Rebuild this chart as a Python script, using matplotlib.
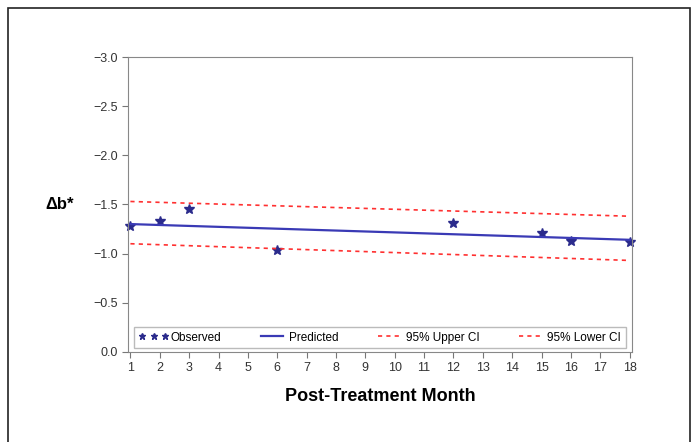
import numpy as np
import matplotlib.pyplot as plt
from matplotlib.patches import Rectangle

plt.rcParams['font.family'] = ['Liberation Sans', 'DejaVu Sans']

# observed data
obs_month = [1, 2, 3, 6, 12, 15, 16, 18]
obs_db = [-1.28, -1.33, -1.45, -1.04, -1.31, -1.21, -1.13, -1.12]

# fitted line and confidence limits (end points)
fit_month = [1, 18]
pred_db = [-1.30, -1.14]
upper_ci = [-1.53, -1.38]
lower_ci = [-1.10, -0.93]

month_ticks = list(range(1, 19))
y_ticks = [0.0, -0.5, -1.0, -1.5, -2.0, -2.5, -3.0]

fig = plt.figure(figsize=(6.96, 4.42), dpi=100)
ax = fig.add_axes([0.184, 0.204, 0.724, 0.667])

ax.plot(obs_month, obs_db, linestyle='none', marker='*', markersize=7.5,
        color='#2b2b8c', label='Observed', clip_on=False)
ax.plot(fit_month, pred_db, color='#3a3ab5', lw=1.6, label='Predicted')
ax.plot(fit_month, upper_ci, color='#ff3030', lw=1.2, ls=(0, (2.5, 2.5)), label='95% Upper CI')
ax.plot(fit_month, lower_ci, color='#ff3030', lw=1.2, ls=(0, (2.5, 2.5)), label='95% Lower CI')

ax.set_xlim(0.92, 18.08)
ax.set_ylim(0.0, -3.0)
ax.set_xticks(month_ticks)
ax.set_yticks(y_ticks)
ax.set_yticklabels(['0.0' if v == 0 else '\u2212%.1f' % abs(v) for v in y_ticks])
ax.tick_params(labelsize=9, length=4, color='#777777', labelcolor='#333333')
for s in ax.spines.values():
    s.set_color('#888888')

ax.set_xlabel('Post-Treatment Month', fontsize=13, fontweight='bold', labelpad=10)
fig.text(0.085, 0.538, '\u0394b*', fontsize=12, fontweight='bold', ha='center', va='center')

leg = ax.legend(loc='lower center', ncol=4, fontsize=8.5, frameon=True, fancybox=False,
                edgecolor='#aaaaaa', mode='expand', borderaxespad=0.3,
                handlelength=2.5, handletextpad=0.2, numpoints=3, markerscale=0.6,
                bbox_to_anchor=(0.005, 0.0, 0.99, 0.1))

fig.patches.append(Rectangle((8 / 696, -0.05), 682 / 696, 1.05 - 8 / 442,
                             transform=fig.transFigure, fill=False,
                             edgecolor='#222222', lw=1.2))

fig.savefig('out.png', dpi=100)
